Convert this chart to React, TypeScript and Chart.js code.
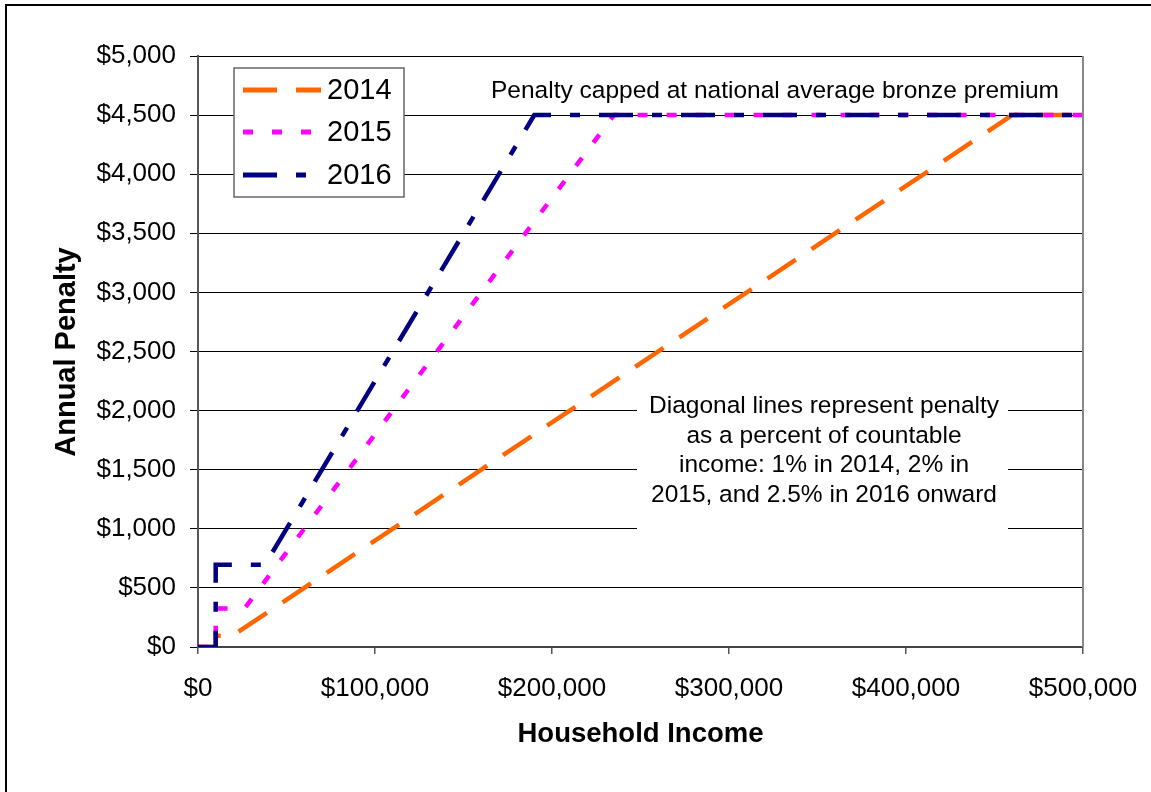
import React, { useEffect, useRef } from "react";
import { Chart, registerables } from "chart.js";

Chart.register(...registerables);

// Data (household income in $, annual penalty in $)
const income2014 = [0, 10000, 10000, 19500, 460000, 500000];
const penalty2014 = [0, 0, 95, 95, 4500, 4500];
const income2015 = [0, 10000, 10000, 26250, 235000, 500000];
const penalty2015 = [0, 0, 325, 325, 4500, 4500];
const income2016 = [0, 10000, 10000, 37800, 190000, 500000];
const penalty2016 = [0, 0, 695, 695, 4500, 4500];

const seriesLabels = ["2014", "2015", "2016"];
const seriesColors = ["#FF6600", "#FF00FF", "#000080"];
const seriesDashes = [[34, 19], [10, 19], [34, 19, 10, 19]];

const capNote = "Penalty capped at national average bronze premium";
const diagonalNote = [
  "Diagonal lines represent penalty",
  "as a percent of countable",
  "income: 1% in 2014, 2% in",
  "2015, and 2.5% in 2016 onward",
];
const xTitle = "Household Income";
const yTitle = "Annual Penalty";

const FONT = "'Liberation Sans', Arial, Helvetica, sans-serif";

const fmtMoney = (v: number) => "$" + Number(v).toLocaleString("en-US");

const toPoints = (xs: number[], ys: number[]) => xs.map((x, i) => ({ x, y: ys[i] }));

const overlayPlugin = {
  id: "overlay",
  afterDraw(chart: any) {
    const ctx = chart.ctx as CanvasRenderingContext2D;
    const area = chart.chartArea;
    ctx.save();

    // plot area right border
    ctx.strokeStyle = "#888888";
    ctx.lineWidth = 2;
    ctx.beginPath();
    ctx.moveTo(area.right, area.top);
    ctx.lineTo(area.right, area.bottom);
    ctx.stroke();

    // outer frame
    ctx.fillStyle = "#000";
    ctx.fillRect(5, 4, 2, chart.height);
    ctx.fillRect(5, 4, chart.width, 2);

    // cap note
    ctx.fillStyle = "#000";
    ctx.font = `24.5px ${FONT}`;
    ctx.textAlign = "center";
    ctx.textBaseline = "alphabetic";
    ctx.fillText(capNote, 775, 98);

    // diagonal note box
    const bx = 637, by = 385, bw = 371, bh = 150;
    ctx.fillStyle = "#fff";
    ctx.fillRect(bx, by, bw, bh);
    ctx.fillStyle = "#000";
    ctx.font = `24.5px ${FONT}`;
    diagonalNote.forEach((line, i) => {
      ctx.fillText(line, 824, 413 + i * 29.7);
    });

    // legend
    const lx = 234, ly = 68, lw = 170, lh = 129;
    ctx.fillStyle = "#fff";
    ctx.fillRect(lx, ly, lw, lh);
    ctx.strokeStyle = "#666";
    ctx.lineWidth = 1.5;
    ctx.strokeRect(lx, ly, lw, lh);
    const rowY = [90, 132, 175];
    seriesLabels.forEach((lab, i) => {
      ctx.strokeStyle = seriesColors[i];
      ctx.lineWidth = 5;
      ctx.setLineDash(seriesDashes[i]);
      ctx.lineCap = "butt";
      ctx.beginPath();
      ctx.moveTo(243, rowY[i]);
      ctx.lineTo(321, rowY[i]);
      ctx.stroke();
      ctx.setLineDash([]);
      ctx.fillStyle = "#000";
      ctx.font = `29px ${FONT}`;
      ctx.textAlign = "left";
      ctx.textBaseline = "middle";
      ctx.fillText(lab, 327, rowY[i] + 1);
    });

    // axis titles
    ctx.fillStyle = "#000";
    ctx.textAlign = "center";
    ctx.textBaseline = "alphabetic";
    ctx.font = `bold 27.5px ${FONT}`;
    ctx.fillText(xTitle, (area.left + area.right) / 2, 742);
    ctx.save();
    ctx.translate(75, 352);
    ctx.rotate(-Math.PI / 2);
    ctx.font = `bold 29px ${FONT}`;
    ctx.fillText(yTitle, 0, 0);
    ctx.restore();

    ctx.restore();
  },
};

export default function App() {
  const ref = useRef<HTMLCanvasElement | null>(null);
  useEffect(() => {
    if (!ref.current) return;
    const datasets = [
      { x: income2014, y: penalty2014 },
      { x: income2015, y: penalty2015 },
      { x: income2016, y: penalty2016 },
    ].map((s, i) => ({
      label: seriesLabels[i],
      data: toPoints(s.x, s.y),
      borderColor: seriesColors[i],
      backgroundColor: seriesColors[i],
      borderWidth: 4.5,
      borderDash: seriesDashes[i],
      borderCapStyle: "butt" as const,
      borderJoinStyle: "miter" as const,
      pointRadius: 0,
      tension: 0,
      fill: false,
      order: 2 - i,
    }));
    const chart = new Chart(ref.current, {
      type: "line",
      data: { datasets },
      options: {
        responsive: false,
        animation: false,
        devicePixelRatio: 1,
        layout: { padding: { left: 0, top: 56, right: 68, bottom: 0 } },
        plugins: { legend: { display: false }, tooltip: { enabled: false } },
        scales: {
          x: {
            type: "linear",
            min: 0,
            max: 500000,
            afterFit: (s: any) => {
              s.height = 145;
              s.paddingLeft = 0;
              s.paddingRight = 0;
            },
            ticks: {
              stepSize: 100000,
              maxRotation: 0,
              autoSkip: false,
              padding: 19,
              color: "#000",
              font: { size: 26, family: FONT },
              callback: (v: any) => fmtMoney(v),
            },
            grid: { drawOnChartArea: false, drawTicks: true, tickLength: 7, color: "#555", lineWidth: 1.5 },
            border: { display: true, color: "#444", width: 2 },
          },
          y: {
            type: "linear",
            min: 0,
            max: 5000,
            afterFit: (s: any) => {
              s.width = 198;
              s.paddingTop = 0;
              s.paddingBottom = 0;
            },
            ticks: {
              stepSize: 500,
              padding: 14,
              color: "#000",
              font: { size: 26, family: FONT },
              callback: (v: any) => fmtMoney(v),
            },
            grid: { color: "#000", lineWidth: 1, tickLength: 8 },
            border: { display: true, color: "#555", width: 2 },
          },
        },
      },
      plugins: [overlayPlugin],
    });
    return () => chart.destroy();
  }, []);
  return (
    <div style={{ position: "absolute", left: 0, top: 0, width: 1151, height: 792, background: "#fff" }}>
      <canvas ref={ref} width={1151} height={792} style={{ display: "block" }} />
    </div>
  );
}
